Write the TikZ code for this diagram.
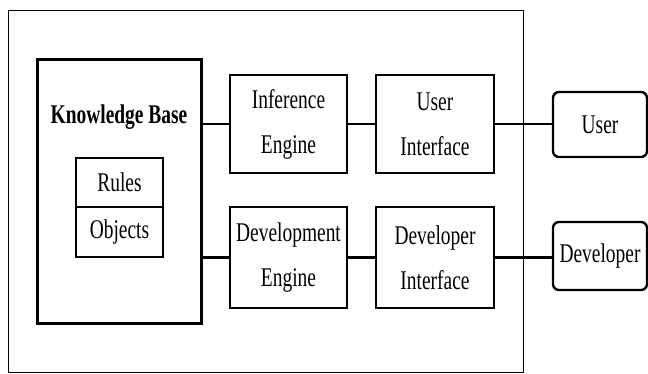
\documentclass[tikz,border=0pt]{standalone}
\usepackage{fontspec}
\setmainfont[FakeStretch=0.72]{Liberation Serif}
\newcommand\dfont{\fontsize{27}{45}\selectfont}
\begin{document}
\begin{tikzpicture}[x=1pt,y=-1pt,
  box/.style={draw, line width=2.4pt, inner sep=0pt, align=center, font=\dfont},
  kbbox/.style={draw, line width=3pt, inner sep=0pt},
  subbox/.style={draw, line width=2pt, inner sep=0pt, minimum width=87pt, font=\dfont},
  actor/.style={box, rounded corners=6pt, minimum width=94pt},
  conn/.style={line width=2.6pt},
  outerbox/.style={draw, line width=1pt, inner sep=0pt}]
\useasboundingbox (0,0) rectangle (648,374);
\node[outerbox, minimum width=515pt, minimum height=361pt] (outer) at (265.5,191.5) {};
\node[kbbox, minimum width=164pt, minimum height=263pt] (kb) at (119,191.5) {};
\node[font=\dfont\bfseries, inner sep=0pt] (kbtitle) at (119,117) {Knowledge Base};
\node[subbox, minimum height=49pt] (rules) at (119.5,182.5) {Rules};
\node[subbox, minimum height=50pt] (objects) at (119.5,232) {Objects};
\node[box, minimum width=117pt, minimum height=98pt] (ie) at (288.5,124) {Inference\\Engine};
\node[box, minimum width=118pt, minimum height=98pt] (ui) at (435,124) {User\\Interface};
\node[box, minimum width=117pt, minimum height=101pt] (de) at (288.5,257.5) {Development\\Engine};
\node[box, minimum width=118pt, minimum height=101pt] (di) at (435,257.5) {Developer\\Interface};
\node[actor, minimum height=65pt] (user) at (600,124.5) {User};
\node[actor, minimum height=68pt] (dev) at (600,256) {Developer};
\draw[conn] (kb.east |- ie.west) -- (ie.west);
\draw[conn] (ie.east) -- (ui.west);
\draw[conn] (ui.east) -- (ui.east -| user.west);
\draw[conn] (kb.east |- de.west) -- (de.west);
\draw[conn] (de.east) -- (di.west);
\draw[conn] (di.east) -- (di.east -| dev.west);
\end{tikzpicture}
\end{document}
